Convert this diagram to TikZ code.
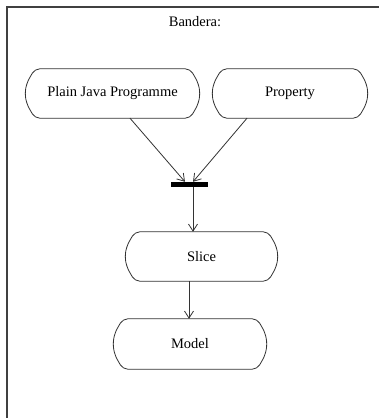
\documentclass[tikz,border=0pt]{standalone}
\usepackage{fontspec}
\setmainfont{Liberation Serif}
\usetikzlibrary{arrows.meta,calc}
\tikzset{
  lbl/.style={font=\fontsize{14.5}{16}\selectfont, text=black},
  capsule/.style={draw=none, lbl, inner sep=0pt},
  outline/.style={draw=black!80, line width=0.8pt, rounded corners=5pt},
  conn/.style={draw=black!80, line width=0.8pt, -{Straight Barb[length=7pt,width=9pt,line width=0.8pt]}},
  frameline/.style={draw=black!75, line width=1.4pt}
}
\newcommand{\capsulepath}[1]{%
  \draw[outline] ($(#1.north west)+(10,0)$) -- ($(#1.north east)+(-10,0)$)
    -- ($(#1.north east)+(-2,14)$) -- ($(#1.east)$) -- ($(#1.south east)+(-2,-14)$)
    -- ($(#1.south east)+(-10,0)$) -- ($(#1.south west)+(10,0)$)
    -- ($(#1.south west)+(2,-14)$) -- ($(#1.west)$) -- ($(#1.north west)+(2,14)$) -- cycle;}
\begin{document}
\begin{tikzpicture}[x=1pt,y=-1pt]
\useasboundingbox (0,0) rectangle (379,418);
\fill[white] (0,0) rectangle (379,418);
\draw[frameline] (7,418) -- (7,7) -- (379,7);
\node[lbl] (title) at (195,22) {Bandera:};
\node[capsule, minimum width=175pt, minimum height=49pt] (pjp) at (112.5,93.5) {Plain Java Programme};
\node[capsule, minimum width=156pt, minimum height=49pt] (prop) at (290,93.5) {Property};
\node[capsule, minimum width=153pt, minimum height=49pt] (slice) at (201.5,256.5) {Slice};
\node[capsule, minimum width=154pt, minimum height=50pt] (model) at (190,344) {Model};
\node[fill=black, draw=none, minimum width=37pt, minimum height=5pt, inner sep=0pt] (bar) at (189.5,184.5) {};
\capsulepath{pjp}
\capsulepath{prop}
\capsulepath{slice}
\capsulepath{model}
\coordinate (pjpout) at ($(pjp.south)+(17.5,0)$);
\coordinate (propout) at ($(prop.south)+(-43,0)$);
\coordinate (barin1) at ($(bar.north)+(-4.5,0)$);
\coordinate (barin2) at ($(bar.north)+(3.5,0)$);
\coordinate (barout) at ($(bar.south)+(3.5,0)$);
\coordinate (slicein) at (barout |- slice.north);
\coordinate (sliceout) at ($(slice.south)+(-12.5,0)$);
\coordinate (modelin) at (sliceout |- model.north);
\draw[conn] (pjpout) -- (barin1);
\draw[conn] (propout) -- (barin2);
\draw[conn] (barout) -- (slicein);
\draw[conn] (sliceout) -- (modelin);
\end{tikzpicture}
\end{document}
